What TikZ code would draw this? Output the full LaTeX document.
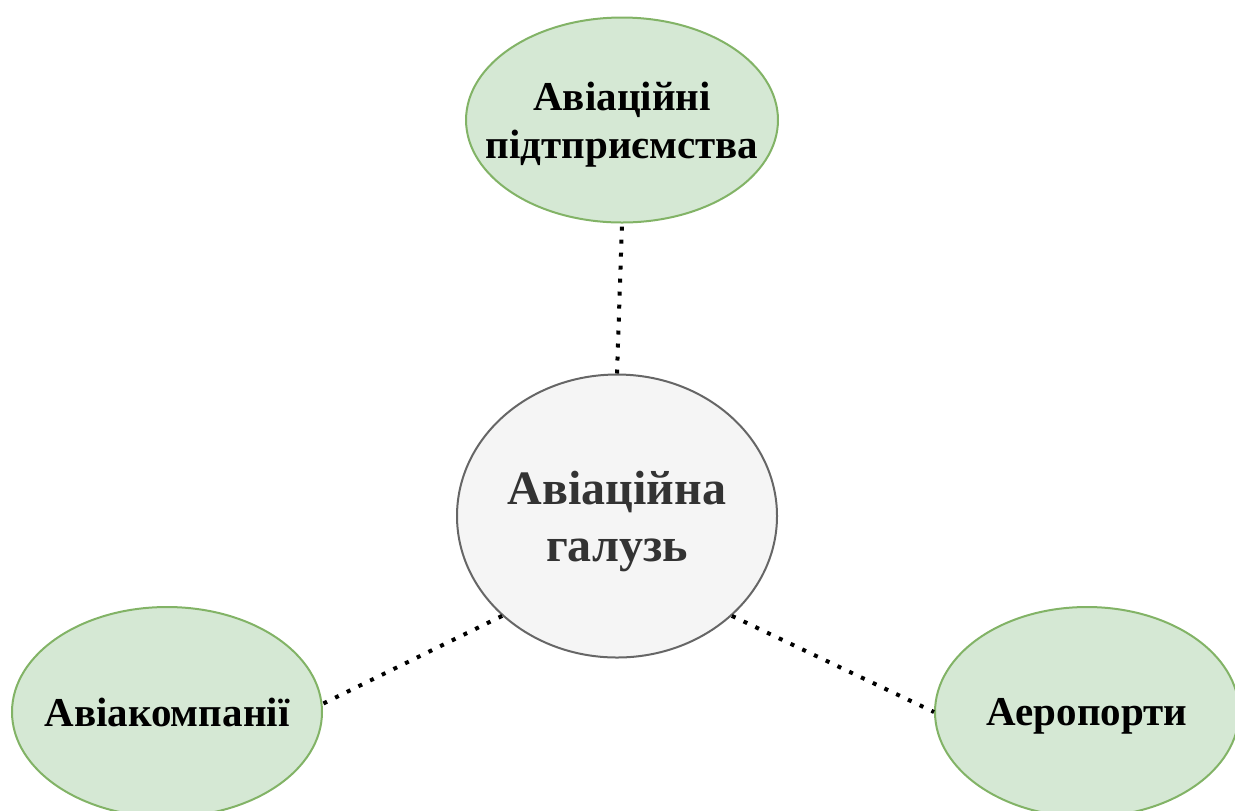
\documentclass[tikz,border=0pt]{standalone}
\usepackage{fontspec}
\setmainfont{Liberation Serif}
\usepackage{tikz}
\usetikzlibrary{shapes, positioning}

\definecolor{grfill}{HTML}{D5E8D4}
\definecolor{grline}{HTML}{82B366}
\definecolor{cfill}{HTML}{F5F5F5}
\definecolor{cline}{HTML}{666666}
\definecolor{ctext}{HTML}{333333}

\tikzset{
  sector/.style={ellipse, draw=grline, fill=grfill, line width=1pt, inner xsep=-13pt, inner ysep=0pt,
    text depth=0pt, align=center, font=\fontsize{20.5}{24}\selectfont\bfseries},
  link/.style={line width=2pt, dash pattern=on 2pt off 4.5pt}
}

\begin{document}
\begin{tikzpicture}[x=0.5pt, y=-0.5pt]
			\useasboundingbox (0,0) rectangle (1235,810);
			\node[ellipse, draw=cline, fill=cfill, line width=1pt, inner sep=0pt, minimum width=160pt, minimum height=141.5pt,
				text=ctext, text depth=0pt, align=center, font=\fontsize{24}{28.5}\selectfont\bfseries] (galuz) at (617,516) {Авіаційна\\галузь};
			\node[sector, minimum width=155pt, minimum height=102.5pt] (pidpr) at (622,120) {Авіаційні\\підтприємства};
			\node[sector, minimum width=155pt, minimum height=105pt] (avk) at (167,712) {Авіакомпанії};
			\node[sector, minimum width=152pt, minimum height=105pt] (aero) at (1087,712) {Аеропорти};
			\draw[link] (galuz.north) -- (pidpr.south);
			\draw[link] (galuz.221) -- (avk.3);
			\draw[link] (galuz.319) -- (aero.west);
		\end{tikzpicture}
\end{document}
